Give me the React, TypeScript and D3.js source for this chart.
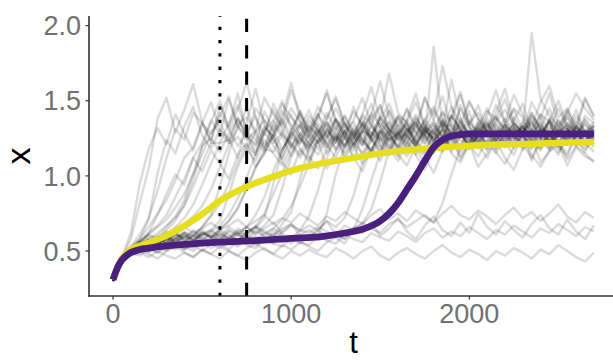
import { useEffect, useRef } from 'react';
import * as d3 from 'd3';

// Simulated trajectories, sampled every 50 time units from t = 0 to t = 2700
const sampleStep = 50;

const sim01 = [
    0.31, 0.46, 0.62, 0.95, 1.18, 1.32, 1.21, 1.41, 1.28, 1.17, 1.35,
    1.49, 1.30, 1.22, 1.38, 1.26, 1.14, 1.29, 1.44, 1.31, 1.19, 1.27,
    1.40, 1.33, 1.21, 1.12, 1.26, 1.37, 1.52, 1.34, 1.23, 1.30, 1.18,
    1.29, 1.41, 1.27, 1.15, 1.24, 1.36, 1.29, 1.20, 1.33, 1.45, 1.31,
    1.22, 1.14, 1.27, 1.39, 1.30, 1.19, 1.32, 1.26, 1.40, 1.28, 1.21,
];
const sim02 = [
    0.30, 0.45, 0.52, 0.58, 0.71, 1.02, 1.24, 1.15, 1.33, 1.46, 1.27,
    1.18, 1.31, 1.25, 1.12, 1.36, 1.58, 1.34, 1.22, 1.29, 1.41, 1.26,
    1.16, 1.24, 1.35, 1.28, 1.19, 1.30, 1.23, 1.38, 1.47, 1.29, 1.17,
    1.26, 1.34, 1.22, 1.31, 1.43, 1.25, 1.13, 1.21, 1.32, 1.27, 1.38,
    1.51, 1.33, 1.24, 1.18, 1.29, 1.36, 1.22, 1.31, 1.25, 1.16, 1.28,
];
const sim03 = [
    0.31, 0.44, 0.51, 0.58, 0.66, 0.75, 0.84, 0.97, 1.12, 1.19, 1.35,
    1.24, 1.42, 1.31, 1.20, 1.28, 1.16, 1.33, 1.25, 1.39, 1.62, 1.37,
    1.26, 1.18, 1.30, 1.22, 1.35, 1.27, 1.14, 1.23, 1.32, 1.44, 1.29,
    1.21, 1.35, 1.28, 1.17, 1.26, 1.40, 1.31, 1.19, 1.27, 1.22, 1.34,
    1.25, 1.37, 1.48, 1.30, 1.21, 1.28, 1.16, 1.25, 1.33, 1.27, 1.19,
];
const sim04 = [
    0.32, 0.46, 0.50, 0.56, 0.62, 0.67, 0.74, 0.86, 0.98, 1.12, 1.22,
    1.37, 1.28, 1.51, 1.33, 1.24, 1.30, 1.19, 1.27, 1.36, 1.22, 1.14,
    1.29, 1.41, 1.26, 1.33, 1.20, 1.28, 1.39, 1.25, 1.16, 1.31, 1.24,
    1.38, 1.55, 1.32, 1.23, 1.30, 1.18, 1.26, 1.35, 1.42, 1.28, 1.20,
    1.27, 1.33, 1.21, 1.12, 1.25, 1.36, 1.29, 1.43, 1.31, 1.24, 1.30,
];
const sim05 = [
    0.30, 0.45, 0.52, 0.56, 0.61, 0.66, 0.71, 0.79, 0.88, 1.01, 1.14,
    1.29, 1.36, 1.22, 1.31, 1.45, 1.27, 1.18, 1.34, 1.26, 1.13, 1.24,
    1.37, 1.30, 1.21, 1.28, 1.16, 1.25, 1.34, 1.48, 1.32, 1.23, 1.29,
    1.19, 1.27, 1.36, 1.24, 1.31, 1.64, 1.38, 1.26, 1.18, 1.29, 1.22,
    1.34, 1.27, 1.19, 1.30, 1.41, 1.28, 1.22, 1.15, 1.27, 1.35, 1.26,
];
const sim06 = [
    0.31, 0.44, 0.49, 0.53, 0.56, 0.60, 0.66, 0.73, 0.84, 1.02, 1.20,
    1.25, 1.16, 1.28, 1.39, 1.26, 1.21, 1.43, 1.30, 1.18, 1.27, 1.35,
    1.22, 1.14, 1.26, 1.38, 1.29, 1.20, 1.31, 1.25, 1.37, 1.27, 1.40,
    1.31, 1.22, 1.15, 1.28, 1.34, 1.25, 1.47, 1.33, 1.24, 1.17, 1.29,
    1.38, 1.26, 1.33, 1.22, 1.18, 1.30, 1.45, 1.32, 1.21, 1.28, 1.23,
];
const sim07 = [
    0.30, 0.46, 0.51, 0.55, 0.58, 0.62, 0.67, 0.72, 0.80, 0.93, 1.08,
    1.22, 1.22, 1.35, 1.47, 1.30, 1.24, 1.16, 1.29, 1.38, 1.26, 1.21,
    1.33, 1.27, 1.42, 1.31, 1.19, 1.26, 1.35, 1.23, 1.30, 1.21, 1.13,
    1.27, 1.39, 1.30, 1.25, 1.36, 1.28, 1.20, 1.32, 1.26, 1.40, 1.57,
    1.35, 1.24, 1.29, 1.37, 1.26, 1.18, 1.31, 1.39, 1.27, 1.20, 1.29,
];
const sim08 = [
    0.31, 0.45, 0.50, 0.54, 0.52, 0.57, 0.61, 0.66, 0.72, 0.81, 0.94,
    1.08, 1.22, 1.24, 1.38, 1.29, 1.20, 1.32, 1.27, 1.43, 1.34, 1.25,
    1.19, 1.28, 1.36, 1.24, 1.30, 1.22, 1.15, 1.27, 1.39, 1.31, 1.26,
    1.34, 1.21, 1.29, 1.37, 1.53, 1.32, 1.24, 1.18, 1.27, 1.35, 1.28,
    1.22, 1.31, 1.26, 1.40, 1.33, 1.25, 1.19, 1.28, 1.36, 1.29, 1.34,
];
const sim09 = [
    0.32, 0.44, 0.51, 0.53, 0.56, 0.60, 0.57, 0.63, 0.68, 0.73, 0.80,
    0.91, 1.06, 1.21, 1.26, 1.18, 1.29, 1.37, 1.24, 1.16, 1.30, 1.41,
    1.28, 1.22, 1.31, 1.45, 1.33, 1.26, 1.20, 1.29, 1.24, 1.36, 1.27,
    1.18, 1.26, 1.33, 1.28, 1.21, 1.30, 1.38, 1.25, 1.32, 1.19, 1.27,
    1.35, 1.44, 1.30, 1.23, 1.31, 1.27, 1.34, 1.21, 1.26, 1.38, 1.30,
];
const sim10 = [
    0.30, 0.45, 0.50, 0.55, 0.57, 0.54, 0.61, 0.58, 0.63, 0.60, 0.66,
    0.74, 0.93, 1.15, 1.34, 1.39, 1.30, 1.52, 1.41, 1.33, 1.45, 1.36,
    1.29, 1.40, 1.55, 1.38, 1.31, 1.43, 1.34, 1.27, 1.39, 1.68, 1.42,
    1.35, 1.28, 1.37, 1.46, 1.33, 1.40, 1.31, 1.49, 1.38, 1.29, 1.36,
    1.44, 1.35, 1.28, 1.95, 1.51, 1.40, 1.33, 1.42, 1.55, 1.45, 1.37,
];
const sim11 = [
    0.31, 0.46, 0.52, 0.54, 0.58, 0.56, 0.53, 0.59, 0.62, 0.57, 0.61,
    0.64, 0.70, 0.88, 1.06, 1.18, 1.10, 1.24, 1.15, 1.07, 1.20, 1.29,
    1.13, 1.05, 1.17, 1.26, 1.12, 1.21, 1.08, 1.16, 1.30, 1.18, 1.10,
    1.22, 1.14, 1.04, 1.19, 1.27, 1.15, 1.09, 1.21, 1.13, 1.24, 1.16,
    1.08, 1.19, 1.28, 1.14, 1.06, 1.17, 1.23, 1.11, 1.20, 1.15, 1.09,
];
const sim12 = [
    0.30, 0.45, 0.51, 0.56, 0.54, 0.59, 0.57, 0.62, 0.58, 0.64, 0.60,
    0.63, 0.67, 0.74, 0.85, 0.99, 1.14, 1.30, 1.37, 1.28, 1.19, 1.33,
    1.25, 1.41, 1.32, 1.22, 1.29, 1.36, 1.24, 1.17, 1.30, 1.27, 1.39,
    1.30, 1.36, 1.25, 1.86, 1.33, 1.34, 1.28, 1.19, 1.27, 1.38, 1.30,
    1.23, 1.35, 1.29, 1.42, 1.31, 1.24, 1.30, 1.21, 1.33, 1.27, 1.25,
];
const sim13 = [
    0.31, 0.44, 0.50, 0.53, 0.57, 0.55, 0.60, 0.56, 0.61, 0.58, 0.63,
    0.59, 0.65, 0.70, 0.78, 0.91, 1.05, 1.18, 1.16, 1.28, 1.21, 1.12,
    1.23, 1.31, 1.19, 1.26, 1.14, 1.22, 1.35, 1.25, 1.18, 1.27, 1.20,
    1.13, 1.24, 1.32, 1.21, 1.16, 1.25, 1.30, 1.19, 1.28, 1.22, 1.15,
    1.26, 1.21, 1.33, 1.24, 1.17, 1.28, 1.20, 1.31, 1.23, 1.18, 1.25,
];
const sim14 = [
    0.30, 0.45, 0.52, 0.55, 0.53, 0.58, 0.56, 0.61, 0.59, 0.55, 0.62,
    0.60, 0.57, 0.64, 0.61, 0.66, 0.74, 0.86, 1.03, 1.18, 1.27, 1.43,
    1.31, 1.22, 1.29, 1.38, 1.26, 1.17, 1.30, 1.42, 1.33, 1.24, 1.28,
    1.37, 1.29, 1.21, 1.33, 1.26, 1.40, 1.31, 1.23, 1.35, 1.28, 1.18,
    1.30, 1.39, 1.27, 1.20, 1.32, 1.45, 1.29, 1.25, 1.34, 1.22, 1.31,
];
const sim15 = [
    0.32, 0.46, 0.51, 0.54, 0.58, 0.55, 0.59, 0.57, 0.62, 0.60, 0.56,
    0.63, 0.59, 0.66, 0.62, 0.58, 0.65, 0.72, 0.95, 1.17, 1.29, 1.22,
    1.34, 1.26, 1.19, 1.31, 1.40, 1.28, 1.21, 1.33, 1.25, 1.16, 1.27,
    1.35, 1.23, 1.30, 1.44, 1.32, 1.24, 1.29, 1.37, 1.26, 1.19, 1.31,
    1.28, 1.22, 1.35, 1.30, 1.24, 1.38, 1.27, 1.33, 1.21, 1.29, 1.36,
];
const sim16 = [
    0.30, 0.44, 0.50, 0.55, 0.52, 0.57, 0.60, 0.56, 0.59, 0.63, 0.58,
    0.61, 0.57, 0.63, 0.60, 0.66, 0.62, 0.67, 0.74, 0.92, 1.13, 1.28,
    1.21, 1.35, 1.27, 1.18, 1.30, 1.24, 1.36, 1.29, 1.20, 1.33, 1.25,
    1.28, 1.19, 1.31, 1.25, 1.38, 1.27, 1.33, 1.22, 1.30, 1.26, 1.35,
    1.24, 1.32, 1.27, 1.19, 1.29, 1.36, 1.23, 1.30, 1.26, 1.34, 1.28,
];
const sim17 = [
    0.31, 0.45, 0.52, 0.54, 0.57, 0.55, 0.58, 0.61, 0.57, 0.60, 0.64,
    0.59, 0.62, 0.58, 0.65, 0.61, 0.67, 0.63, 0.60, 0.68, 0.76, 0.98,
    1.19, 1.32, 1.25, 1.37, 1.28, 1.21, 1.30, 1.26, 1.39, 1.31, 1.23,
    1.29, 1.36, 1.24, 1.31, 1.20, 1.27, 1.34, 1.28, 1.22, 1.33, 1.40,
    1.30, 1.25, 1.33, 1.27, 1.36, 1.22, 1.29, 1.35, 1.28, 1.23, 1.31,
];
const sim18 = [
    0.30, 0.46, 0.51, 0.53, 0.56, 0.59, 0.55, 0.58, 0.62, 0.57, 0.61,
    0.64, 0.60, 0.57, 0.63, 0.66, 0.61, 0.65, 0.69, 0.62, 0.67, 0.64,
    0.73, 0.90, 1.12, 1.27, 1.20, 1.33, 1.25, 1.16, 1.29, 1.36, 1.24,
    1.31, 1.22, 1.28, 1.35, 1.26, 1.19, 1.30, 1.24, 1.37, 1.29, 1.23,
    1.32, 1.26, 1.20, 1.29, 1.34, 1.27, 1.22, 1.31, 1.25, 1.37, 1.28,
];
const sim19 = [
    0.31, 0.44, 0.49, 0.52, 0.50, 0.53, 0.56, 0.54, 0.51, 0.57, 0.55,
    0.59, 0.54, 0.58, 0.62, 0.56, 0.60, 0.57, 0.63, 0.59, 0.55, 0.61,
    0.64, 0.60, 0.75, 1.01, 1.20, 1.31, 1.23, 1.17, 1.29, 1.24, 1.34,
    1.26, 1.20, 1.31, 1.25, 1.17, 1.28, 1.36, 1.27, 1.21, 1.30, 1.24,
    1.19, 1.28, 1.33, 1.25, 1.30, 1.21, 1.27, 1.35, 1.29, 1.22, 1.27,
];
const sim20 = [
    0.32, 0.45, 0.51, 0.54, 0.57, 0.55, 0.58, 0.56, 0.60, 0.57, 0.62,
    0.59, 0.64, 0.61, 0.57, 0.63, 0.66, 0.62, 0.60, 0.65, 0.68, 0.63,
    0.67, 0.64, 0.70, 0.66, 0.72, 0.87, 1.08, 1.26, 1.35, 1.28, 1.20,
    1.31, 1.26, 1.38, 1.29, 1.22, 1.33, 1.27, 1.19, 1.30, 1.36, 1.25,
    1.29, 1.34, 1.26, 1.21, 1.32, 1.28, 1.37, 1.24, 1.30, 1.26, 1.33,
];
const sim21 = [
    0.30, 0.45, 0.48, 0.50, 0.52, 0.49, 0.53, 0.55, 0.51, 0.54, 0.50,
    0.55, 0.52, 0.56, 0.53, 0.58, 0.54, 0.57, 0.61, 0.56, 0.59, 0.55,
    0.60, 0.64, 0.59, 0.62, 0.58, 0.65, 0.68, 0.78, 0.96, 1.17, 1.29,
    1.22, 1.33, 1.27, 1.20, 1.31, 1.25, 1.36, 1.28, 1.21, 1.30, 1.26,
    1.34, 1.27, 1.22, 1.31, 1.25, 1.38, 1.29, 1.23, 1.32, 1.27, 1.24,
];
const sim22 = [
    0.31, 0.46, 0.52, 0.55, 0.53, 0.57, 0.55, 0.59, 0.56, 0.61, 0.58,
    0.56, 0.61, 0.59, 0.63, 0.60, 0.57, 0.62, 0.65, 0.61, 0.58, 0.64,
    0.62, 0.66, 0.63, 0.60, 0.67, 0.64, 0.69, 0.65, 0.62, 0.68, 0.71,
    0.66, 0.70, 0.74, 0.69, 0.82, 1.01, 1.19, 1.30, 1.23, 1.34, 1.27,
    1.20, 1.31, 1.26, 1.35, 1.28, 1.22, 1.30, 1.24, 1.33, 1.27, 1.21,
];
const sim23 = [
    0.30, 0.44, 0.49, 0.52, 0.50, 0.54, 0.51, 0.55, 0.53, 0.50, 0.56,
    0.52, 0.55, 0.51, 0.57, 0.54, 0.52, 0.58, 0.55, 0.53, 0.59, 0.56,
    0.54, 0.60, 0.57, 0.55, 0.61, 0.58, 0.56, 0.62, 0.59, 0.57, 0.63,
    0.60, 0.56, 0.62, 0.65, 0.59, 0.63, 0.60, 0.66, 0.62, 0.58, 0.64,
    0.61, 0.67, 0.63, 0.59, 0.65, 0.62, 0.68, 0.64, 0.60, 0.66, 0.63,
];
const sim24 = [
    0.31, 0.43, 0.47, 0.49, 0.46, 0.50, 0.47, 0.45, 0.49, 0.46, 0.51,
    0.48, 0.45, 0.50, 0.47, 0.44, 0.49, 0.52, 0.48, 0.45, 0.50, 0.47,
    0.51, 0.48, 0.46, 0.52, 0.49, 0.45, 0.50, 0.53, 0.47, 0.44, 0.49,
    0.52, 0.48, 0.45, 0.50, 0.54, 0.49, 0.46, 0.51, 0.48, 0.44, 0.50,
    0.47, 0.52, 0.49, 0.45, 0.51, 0.48, 0.54, 0.50, 0.46, 0.43, 0.49,
];
const sim25 = [
    0.32, 0.46, 0.53, 0.57, 0.61, 0.58, 0.63, 0.60, 0.66, 0.62, 0.65,
    0.69, 0.64, 0.67, 0.71, 0.66, 0.70, 0.74, 0.68, 0.72, 0.69, 0.75,
    0.71, 0.67, 0.73, 0.70, 0.76, 0.72, 0.68, 0.74, 0.78, 0.71, 0.75,
    0.70, 0.77, 0.73, 0.69, 0.75, 0.80, 0.74, 0.71, 0.77, 0.73, 0.68,
    0.74, 0.79, 0.72, 0.76, 0.70, 0.75, 0.81, 0.73, 0.69, 0.76, 0.72,
];
const sim26 = [
    0.31, 0.45, 0.58, 0.82, 1.05, 1.38, 1.52, 1.29, 1.44, 1.61, 1.36,
    1.22, 1.47, 1.33, 1.55, 1.28, 1.40, 1.19, 1.36, 1.50, 1.31, 1.43,
    1.26, 1.38, 1.57, 1.35, 1.24, 1.46, 1.32, 1.41, 1.63, 1.39, 1.28,
    1.45, 1.33, 1.52, 1.37, 1.25, 1.40, 1.56, 1.34, 1.47, 1.29, 1.42,
    1.58, 1.36, 1.27, 1.49, 1.38, 1.55, 1.33, 1.44, 1.30, 1.51, 1.39,
];
const sim27 = [
    0.30, 0.44, 0.50, 0.55, 0.62, 0.74, 0.88, 1.01, 0.94, 1.12, 1.03,
    1.17, 1.08, 0.98, 1.14, 1.22, 1.06, 1.15, 1.27, 1.09, 1.01, 1.18,
    1.11, 1.24, 1.05, 1.16, 1.30, 1.12, 1.03, 1.19, 1.10, 1.25, 1.14,
    1.07, 1.20, 1.13, 1.02, 1.17, 1.28, 1.11, 1.22, 1.06, 1.15, 1.24,
    1.12, 1.04, 1.18, 1.26, 1.09, 1.16, 1.21, 1.07, 1.19, 1.13, 1.10,
];
const sim28 = [
    0.31, 0.46, 0.51, 0.56, 0.60, 0.58, 0.64, 0.70, 0.81, 0.97, 1.19,
    1.36, 1.50, 1.31, 1.44, 1.62, 1.39, 1.27, 1.48, 1.35, 1.57, 1.42,
    1.30, 1.46, 1.38, 1.53, 1.34, 1.25, 1.41, 1.59, 1.37, 1.48, 1.33,
    1.44, 1.29, 1.52, 1.40, 1.73, 1.46, 1.35, 1.50, 1.38, 1.31, 1.47,
    1.36, 1.54, 1.41, 1.32, 1.49, 1.60, 1.39, 1.45, 1.34, 1.52, 1.40,
];
const sim29 = [
    0.30, 0.45, 0.49, 0.47, 0.52, 0.49, 0.54, 0.51, 0.56, 0.60, 0.66,
    0.73, 0.82, 0.95, 1.09, 1.21, 1.14, 1.29, 1.20, 1.11, 1.25, 1.34,
    1.19, 1.28, 1.15, 1.23, 1.36, 1.21, 1.30, 1.13, 1.26, 1.19, 1.31,
    1.24, 1.14, 1.27, 1.35, 1.20, 1.29, 1.16, 1.23, 1.33, 1.18, 1.26,
    1.21, 1.32, 1.17, 1.25, 1.38, 1.22, 1.14, 1.28, 1.20, 1.31, 1.24,
];
const sim30 = [
    0.32, 0.46, 0.53, 0.61, 0.72, 0.90, 1.12, 1.31, 1.24, 1.42, 1.35,
    1.28, 1.40, 1.53, 1.33, 1.26, 1.45, 1.37, 1.30, 1.48, 1.39, 1.32,
    1.44, 1.29, 1.38, 1.51, 1.35, 1.27, 1.41, 1.34, 1.47, 1.31, 1.40,
    1.36, 1.49, 1.33, 1.28, 1.42, 1.37, 1.54, 1.35, 1.30, 1.43, 1.38,
    1.32, 1.45, 1.39, 1.29, 1.41, 1.36, 1.50, 1.34, 1.27, 1.40, 1.35,
];
const sim31 = [
    0.31, 0.44, 0.48, 0.51, 0.49, 0.53, 0.50, 0.55, 0.52, 0.56, 0.53,
    0.58, 0.55, 0.60, 0.57, 0.62, 0.66, 0.75, 0.88, 1.02, 1.16, 1.25,
    1.18, 1.30, 1.22, 1.37, 1.26, 1.19, 1.33, 1.24, 1.15, 1.29, 1.38,
    1.27, 1.20, 1.34, 1.23, 1.31, 1.46, 1.28, 1.21, 1.35, 1.25, 1.18,
    1.30, 1.24, 1.37, 1.28, 1.19, 1.33, 1.26, 1.40, 1.29, 1.22, 1.34,
];
const sim32 = [
    0.30, 0.45, 0.51, 0.54, 0.51, 0.56, 0.53, 0.58, 0.55, 0.52, 0.57,
    0.54, 0.59, 0.56, 0.61, 0.57, 0.63, 0.60, 0.65, 0.71, 0.80, 0.93,
    1.08, 1.22, 1.31, 1.24, 1.40, 1.29, 1.21, 1.34, 1.26, 1.43, 1.32,
    1.25, 1.38, 1.30, 1.22, 1.36, 1.28, 1.45, 1.33, 1.24, 1.31, 1.39,
    1.27, 1.35, 1.29, 1.42, 1.31, 1.23, 1.37, 1.30, 1.44, 1.28, 1.33,
];
const sim33 = [
    0.31, 0.44, 0.47, 0.50, 0.48, 0.45, 0.50, 0.53, 0.49, 0.46, 0.51,
    0.48, 0.53, 0.50, 0.47, 0.52, 0.55, 0.51, 0.48, 0.54, 0.51, 0.56,
    0.53, 0.50, 0.56, 0.59, 0.55, 0.64, 0.78, 0.97, 1.15, 1.26, 1.19,
    1.32, 1.24, 1.16, 1.29, 1.37, 1.22, 1.30, 1.18, 1.27, 1.35, 1.23,
    1.31, 1.20, 1.28, 1.36, 1.25, 1.17, 1.29, 1.33, 1.22, 1.30, 1.26,
];
const sim34 = [
    0.30, 0.45, 0.50, 0.53, 0.57, 0.54, 0.58, 0.55, 0.60, 0.57, 0.62,
    0.59, 0.64, 0.70, 0.79, 0.92, 1.06, 1.15, 1.27, 1.12, 1.31, 1.18,
    1.09, 1.24, 1.36, 1.17, 1.26, 1.11, 1.29, 1.40, 1.20, 1.14, 1.28,
    1.35, 1.19, 1.08, 1.23, 1.32, 1.16, 1.27, 1.43, 1.21, 1.12, 1.25,
    1.34, 1.18, 1.29, 1.10, 1.24, 1.37, 1.20, 1.13, 1.28, 1.22, 1.16,
];
const sim35 = [
    0.31, 0.45, 0.51, 0.56, 0.52, 0.59, 0.55, 0.62, 0.57, 0.53, 0.60,
    0.56, 0.63, 0.58, 0.54, 0.61, 0.66, 0.59, 0.55, 0.63, 0.68, 0.60,
    0.57, 0.64, 0.70, 0.61, 0.58, 0.66, 0.62, 0.69, 0.60, 0.65, 0.72,
    0.63, 0.58, 0.67, 0.73, 0.64, 0.60, 0.69, 0.62, 0.75, 0.66, 0.61,
    0.70, 0.64, 0.59, 0.68, 0.74, 0.65, 0.61, 0.71, 0.63, 0.58, 0.67,
];

const simulations = [
    sim01, sim02, sim03, sim04, sim05, sim06, sim07, sim08, sim09, sim10,
    sim11, sim12, sim13, sim14, sim15, sim16, sim17, sim18, sim19, sim20,
    sim21, sim22, sim23, sim24, sim25, sim26, sim27, sim28, sim29, sim30,
    sim31, sim32, sim33, sim34, sim35,
];

// Mean of the ensemble (yellow)
const meanT = [0, 25, 50, 100, 150, 200, 250, 300, 350, 400, 450, 500, 550, 600, 650, 700, 750, 800, 900, 1000, 1100, 1200, 1300, 1400, 1500, 1600, 1800, 2000, 2200, 2400, 2700];
const meanX = [0.31, 0.39, 0.45, 0.51, 0.535, 0.555, 0.578, 0.603, 0.633, 0.668, 0.705, 0.745, 0.79, 0.835, 0.87, 0.9, 0.927, 0.953, 0.995, 1.035, 1.065, 1.09, 1.11, 1.13, 1.15, 1.165, 1.185, 1.20, 1.21, 1.215, 1.225];

// Deterministic solution (purple)
const odeT = [0, 25, 50, 75, 100, 150, 200, 300, 400, 600, 800, 1000, 1160, 1300, 1400, 1500, 1550, 1600, 1650, 1700, 1750, 1800, 1850, 1900, 1950, 2000, 2100, 2300, 2700];
const odeX = [0.31, 0.39, 0.44, 0.47, 0.49, 0.51, 0.52, 0.535, 0.545, 0.56, 0.57, 0.585, 0.595, 0.62, 0.645, 0.70, 0.75, 0.82, 0.91, 1.00, 1.10, 1.19, 1.24, 1.265, 1.275, 1.28, 1.28, 1.28, 1.28];

// Vertical reference times
const dottedT = 600;
const dashedT = 750;

const xTicks = [0, 1000, 2000];
const yTicks = [0.5, 1.0, 1.5, 2.0];

const font = '"Liberation Sans", Arial, Helvetica, sans-serif';

export default function App() {
    const svgRef = useRef<SVGSVGElement>(null);

    useEffect(() => {
        if (!svgRef.current) return;
        const width = 613;
        const height = 360;
        const panel = { left: 89, top: 16, right: 618, bottom: 296 };

        const svg = d3.select(svgRef.current)
            .attr('width', width)
            .attr('height', height);
        svg.selectAll('*').remove();

        const x = d3.scaleLinear().domain([-135, 2835]).range([panel.left, panel.right]);
        const y = d3.scaleLinear().domain([0.201, 2.064]).range([panel.bottom, panel.top]);

        // Grey trajectories
        const simLine = d3.line<number>()
            .x((_, i) => x(i * sampleStep))
            .y(d => y(d));

        svg.append('g')
            .selectAll('path')
            .data(simulations)
            .enter()
            .append('path')
            .attr('d', d => simLine(d))
            .attr('fill', 'none')
            .attr('stroke', '#000')
            .attr('stroke-opacity', 0.14)
            .attr('stroke-width', 2.4)
            .attr('stroke-linejoin', 'round');

        // Vertical lines, drawn bottom-up like ggplot
        svg.append('line')
            .attr('x1', x(dottedT)).attr('x2', x(dottedT))
            .attr('y1', panel.bottom).attr('y2', panel.top)
            .attr('stroke', '#000')
            .attr('stroke-width', 3)
            .attr('stroke-dasharray', '3.3,10');

        svg.append('line')
            .attr('x1', x(dashedT)).attr('x2', x(dashedT))
            .attr('y1', panel.bottom).attr('y2', panel.top)
            .attr('stroke', '#000')
            .attr('stroke-width', 3)
            .attr('stroke-dasharray', '13.2,13.2');

        const smooth = d3.line<number>()
            .curve(d3.curveMonotoneX);

        svg.append('path')
            .attr('d', smooth.x((_, i) => x(meanT[i])).y(d => y(d))(meanX))
            .attr('fill', 'none')
            .attr('stroke', '#E6DE1F')
            .attr('stroke-width', 6.5);

        svg.append('path')
            .attr('d', smooth.x((_, i) => x(odeT[i])).y(d => y(d))(odeX))
            .attr('fill', 'none')
            .attr('stroke', '#4A1F7E')
            .attr('stroke-width', 6.8);

        // Axes
        const axisColor = '#333';
        const labelColor = '#717171';

        svg.append('line')
            .attr('x1', panel.left).attr('x2', panel.left)
            .attr('y1', panel.top).attr('y2', panel.bottom + 0.8)
            .attr('stroke', axisColor).attr('stroke-width', 1.6);
        svg.append('line')
            .attr('x1', panel.left - 0.8).attr('x2', width)
            .attr('y1', panel.bottom).attr('y2', panel.bottom)
            .attr('stroke', axisColor).attr('stroke-width', 1.6);

        const yg = svg.append('g');
        yTicks.forEach(v => {
            yg.append('line')
                .attr('x1', panel.left - 3.5).attr('x2', panel.left)
                .attr('y1', y(v)).attr('y2', y(v))
                .attr('stroke', axisColor).attr('stroke-width', 1.2);
            yg.append('text')
                .attr('x', panel.left - 8)
                .attr('y', y(v))
                .attr('dy', '0.36em')
                .attr('text-anchor', 'end')
                .attr('fill', labelColor)
                .attr('font-family', font)
                .attr('font-size', 27)
                .text(d3.format('.1f')(v));
        });

        const xg = svg.append('g');
        xTicks.forEach(v => {
            xg.append('line')
                .attr('x1', x(v)).attr('x2', x(v))
                .attr('y1', panel.bottom).attr('y2', panel.bottom + 3.5)
                .attr('stroke', axisColor).attr('stroke-width', 1.2);
            xg.append('text')
                .attr('x', x(v))
                .attr('y', 322.5)
                .attr('text-anchor', 'middle')
                .attr('fill', labelColor)
                .attr('font-family', font)
                .attr('font-size', 27)
                .text(String(v));
        });

        // Axis titles
        svg.append('text')
            .attr('x', x(1350))
            .attr('y', 353)
            .attr('text-anchor', 'middle')
            .attr('fill', '#000')
            .attr('font-family', font)
            .attr('font-size', 31)
            .text('t');

        svg.append('text')
            .attr('transform', `translate(30,${(panel.top + panel.bottom) / 2}) rotate(-90)`)
            .attr('text-anchor', 'middle')
            .attr('fill', '#000')
            .attr('font-family', font)
            .attr('font-size', 34)
            .text('x');
    }, []);

    return (
        <div>
            <style>{'body{margin:0}'}</style>
            <svg ref={svgRef} style={{ display: 'block' }} />
        </div>
    );
}
